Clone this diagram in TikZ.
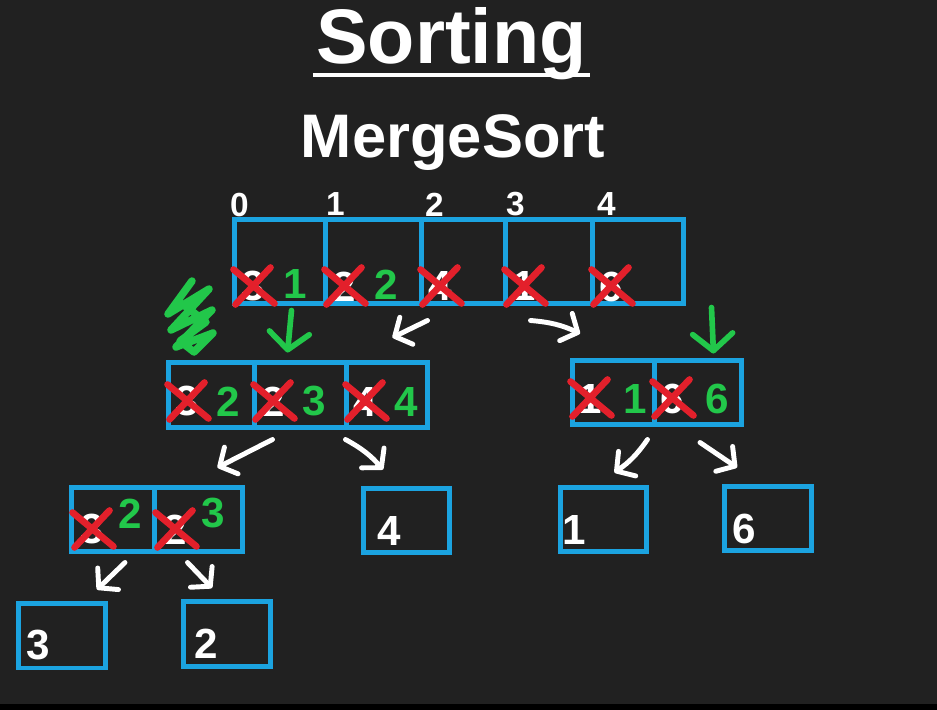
\documentclass[tikz,border=0pt]{standalone}
\usepackage{fontspec}
\setmainfont{Liberation Sans}
\usetikzlibrary{arrows.meta}
\usetikzlibrary{calc}
\definecolor{board}{HTML}{212121}
\definecolor{boxblue}{HTML}{1BA3E0}
\definecolor{penred}{HTML}{E3202B}
\definecolor{pengreen}{HTML}{22C74A}
\newcommand\crossit[1]{% strike out a value node
  \draw[cross] ($(#1)+(-20,-17)$) -- ($(#1)+(21,17)$)
               ($(#1)+(-18,18)$) -- ($(#1)+(17,-19)$);
}

\begin{document}
\begin{tikzpicture}[x=0.02cm,y=-0.02cm]
  \tikzset{cell/.style={draw=boxblue, line width=0.1cm, inner sep=0}}
  \tikzset{oldv/.style={text=white, inner sep=0, font=\fontsize{24}{24}\selectfont\bfseries}}
  \tikzset{newv/.style={text=pengreen, inner sep=0, font=\fontsize{24}{24}\selectfont\bfseries}}
  \tikzset{idx/.style={text=white, inner sep=0, font=\fontsize{19}{19}\selectfont\bfseries}}
  \tikzset{cross/.style={draw=penred, line width=3.8pt, line cap=round}}
  \tikzset{warrow/.style={draw=white, line width=2.8pt, line cap=round, -{Straight Barb[length=2.6mm,width=6mm,round]}}}
  \tikzset{garrow/.style={draw=pengreen, line width=3.2pt, line cap=round, -{Straight Barb[length=3.4mm,width=8mm,round]}}}

  \fill[board] (0,0) rectangle (937,710);
  \fill[black] (0,704) rectangle (937,710);
  \useasboundingbox (0,0) rectangle (937,710);

  % titles
  \node[text=white, inner sep=0, anchor=base, font=\fontsize{44}{44}\selectfont\bfseries] (title) at (451.5,63) {Sorting};
  \draw[white, line width=0.08cm] ($(title.base west)+(-3,12)$) -- ($(title.base east)+(3,12)$);
  \node[text=white, inner sep=0, anchor=base, font=\fontsize{35}{35}\selectfont\bfseries] (sub) at (453,157) {MergeSort};

  % whole array
  \foreach \n/\cx/\w/\o/\g in {t0/279.5/91/3/1, t1/373/96/2/2, t2/463/84/4/, t3/548.5/87/1/, t4/637.5/91/6/}{
    \node[cell, minimum width=\w*0.02cm, minimum height=1.7cm] (\n) at (\cx,261.5) {};
    \node[oldv] (\n-o) at ($(\n.south west)+(22,-20)$) {\o};
    \node[newv] at ($(\n.south west)+(64,-22)$) {\g};
    \crossit{\n-o}
  }
  \foreach \i/\dx in {0/8,1/13,2/16,3/13,4/17}
    \node[idx] at ($(t\i.north west)+(\dx,-12)$) {\i};

  % left half
  \foreach \n/\cx/\w/\o/\g in {m0/211/86/3/2, m1/300/92/2/3, m2/386.5/81/4/4}{
    \node[cell, minimum width=\w*0.02cm, minimum height=1.32cm] (\n) at (\cx,395) {};
    \node[oldv] (\n-o) at ($(\n.south west)+(22,-29)$) {\o};
    \node[newv] at ($(\n.south west)+(63,-29)$) {\g};
    \crossit{\n-o}
  }
  % right half
  \foreach \n/\cx/\w/\o/\g in {r0/613/82/1/1, r1/697.5/87/6/6}{
    \node[cell, minimum width=\w*0.02cm, minimum height=1.3cm] (\n) at (\cx,392.5) {};
    \node[oldv] (\n-o) at ($(\n.south west)+(21,-29)$) {\o};
    \node[newv] at ($(\n.south west)+(66,-29)$) {\g};
    \crossit{\n-o}
  }
  % pair
  \foreach \n/\cx/\w/\o/\g in {p0/112.5/83/3/2, p1/198/88/2/3}{
    \node[cell, minimum width=\w*0.02cm, minimum height=1.3cm] (\n) at (\cx,519.5) {};
    \node[oldv] (\n-o) at ($(\n.south west)+(24,-25)$) {\o};
    \node[newv] at ($(\n.south west)+(62,-41)$) {\g};
    \crossit{\n-o}
  }
  % single values
  \foreach \n/\cx/\cy/\v/\dx in {s4/406.5/520.5/4/29, s1/603.5/519.5/1/17, s6/768/518.5/6/22, b3/62/635.5/3/22, b2/227/634/2/25}{
    \node[cell, minimum width=1.74cm, minimum height=1.3cm] (\n) at (\cx,\cy) {};
    \node[oldv] at ($(\n.south west)+(\dx,-25)$) {\v};
  }

  % splits
  \draw[warrow] ($(t2.south west)+(9,14)$) -- ($(m1.north east)+(44,-22)$);
  \draw[warrow] ($(t3.south west)+(28,14)$) to[bend left=10] ($(r0.north)+(-33,-24)$);
  \draw[warrow] ($(m1.south west)+(21,9)$) -- ($(p1.north east)+(-27,-17)$);
  \draw[warrow] ($(m1.south east)+(-3,9)$) to[bend left=10] ($(s4.north)+(-23.5,-16)$);
  \draw[warrow] ($(r0.south east)+(-9,12)$) to[bend left=10] ($(s1.north east)+(-35,-12)$);
  \draw[warrow] ($(r1.south)+(2.5,15)$) -- ($(s6.north west)+(15,-16)$);
  \draw[warrow] ($(p0.south)+(12.5,8)$) -- ($(b3.north east)+(-11,-11)$);
  \draw[warrow] ($(p1.south west)+(36,8)$) -- ($(b2.north)+(-15,-11)$);

  % green marks
  \draw[garrow] ($(t0.south east)+(-36,4)$) -- ($(m1.north west)+(36,-7)$);
  \draw[garrow] ($(r1.north)+(14,-50)$) -- ($(r1.north)+(16,-4)$);
  \draw[pengreen, line width=0.15cm, line cap=round, line join=round]
    (192,281) -- (168,314) -- (209,289) -- (171,330) -- (212,310)
    -- (176,347) -- (213,333) -- (194,352) -- (180,341) -- (206,322)
    -- (185,306) -- (198,297);

\end{tikzpicture}
\end{document}
